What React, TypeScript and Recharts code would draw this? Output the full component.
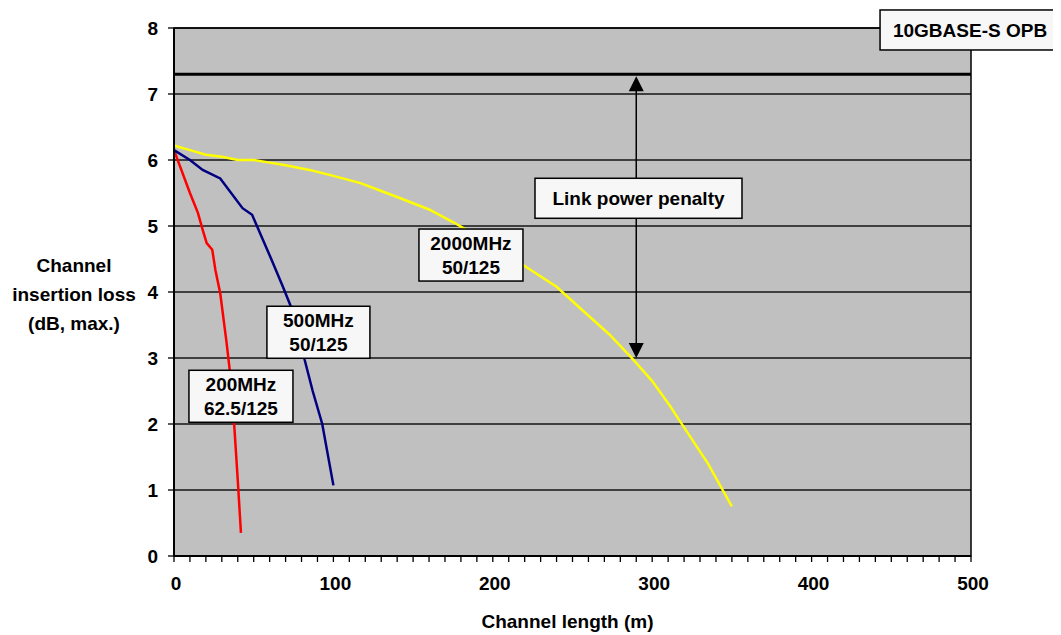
import React from "react"
import {
  LineChart,
  Line,
  XAxis,
  YAxis,
  CartesianGrid,
  ReferenceLine,
  ReferenceArea,
  ReferenceDot,
} from "recharts"

// Channel length (m) vs. max channel insertion loss (dB)
const oneGhzLength = [0, 10, 15, 18, 20.5, 24, 26, 29, 33, 36, 38, 40, 42]
const oneGhzLoss = [6.15, 5.5, 5.2, 4.94, 4.74, 4.64, 4.33, 3.98, 3.23, 2.6, 1.9, 1.15, 0.35]

const fiveHundredLength = [0, 10, 18, 29, 43, 49, 54, 61, 68, 73, 78, 82, 87, 93, 100]
const fiveHundredLoss = [6.15, 6.0, 5.85, 5.72, 5.27, 5.17, 4.89, 4.5, 4.1, 3.8, 3.4, 2.97, 2.5, 2.0, 1.07]

const twoGhzLength = [0, 10, 20, 30, 40, 50, 60, 70, 85, 100, 117, 130, 142, 160, 175, 190, 205, 219, 240, 255, 273, 288, 300, 311, 318, 335, 350]
const twoGhzLoss = [6.22, 6.15, 6.08, 6.05, 6.0, 6.0, 5.96, 5.92, 5.85, 5.76, 5.65, 5.53, 5.42, 5.25, 5.06, 4.85, 4.62, 4.41, 4.08, 3.75, 3.36, 2.98, 2.65, 2.28, 2.02, 1.4, 0.75]

const xMajorTicks = [0, 100, 200, 300, 400, 500]
const xMinorTicks = Array.from({ length: 51 }, (_, i) => i * 10)
const yTicks = [0, 1, 2, 3, 4, 5, 6, 7, 8]

const opbLevel = 7.3
const penaltyLength = 290
const penaltyFloor = 3

const toPoints = (xs: number[], ys: number[]) => xs.map((x, i) => ({ x, y: ys[i] }))

const FONT = "'Liberation Sans', Arial, sans-serif"

// tick props arrive with y = axis line + tickSize(6) + tickMargin(2)
function XTick(props: any) {
  const { x, y, payload } = props
  const axisY = y - 8
  const major = xMajorTicks.includes(payload.value)
  return (
    <g>
      <line x1={x} x2={x} y1={axisY} y2={axisY + 6} stroke="#000" strokeWidth={1.3} />
      {major && (
        <text x={x + 2} y={axisY + 27} dy="0.35em" textAnchor="middle" fontFamily={FONT} fontWeight="bold" fontSize={19} fill="#000">
          {payload.value}
        </text>
      )}
    </g>
  )
}

function boxLabel(lines: string[], w: number, h: number) {
  return (props: any) => {
    const { cx, cy } = props
    const gap = 24
    const top = cy - ((lines.length - 1) * gap) / 2
    return (
      <g>
        <rect x={cx - w / 2} y={cy - h / 2} width={w} height={h} fill="#f7f7f7" stroke="#000" strokeWidth={1.5} />
        {lines.map((t, i) => (
          <text
            key={i}
            x={cx}
            y={top + i * gap}
            dy="0.35em"
            textAnchor="middle"
            fontFamily={FONT}
            fontWeight="bold"
            fontSize={19}
            fill="#000"
          >
            {t}
          </text>
        ))}
      </g>
    )
  }
}

function PenaltyArrow(props: any) {
  const { x1, y1, y2 } = props
  const top = Math.min(y1, y2) + 2
  const bottom = Math.max(y1, y2)
  return (
    <g>
      <line x1={x1} x2={x1} y1={top + 10} y2={bottom - 10} stroke="#000" strokeWidth={1.5} />
      <polygon points={`${x1},${top} ${x1 - 7.5},${top + 15} ${x1 + 7.5},${top + 15}`} fill="#000" />
      <polygon points={`${x1},${bottom} ${x1 - 7.5},${bottom - 15} ${x1 + 7.5},${bottom - 15}`} fill="#000" />
    </g>
  )
}

function YLabel(props: any) {
  const { viewBox } = props
  const cx = viewBox.x + 66
  const cy = viewBox.y + viewBox.height / 2
  const lines = ["Channel", "insertion loss", "(dB, max.)"]
  return (
    <g>
      {lines.map((t, i) => (
        <text key={i} x={cx} y={cy - 20 + i * 29} textAnchor="middle" fontFamily={FONT} fontWeight="bold" fontSize={19} fill="#000">
          {t}
        </text>
      ))}
    </g>
  )
}

function XLabel(props: any) {
  const { viewBox } = props
  return (
    <text x={viewBox.x + viewBox.width / 2 - 5} y={viewBox.y + 72} textAnchor="middle" fontFamily={FONT} fontWeight="bold" fontSize={19} fill="#000">
      Channel length (m)
    </text>
  )
}

export default function App() {
  return (
    <LineChart width={1053} height={627} margin={{ top: 20, right: 90, left: 0, bottom: 0 }}>
      <CartesianGrid horizontal vertical={false} fill="#c0c0c0" stroke="#000" strokeWidth={1.5} strokeOpacity={0.9} />
      <XAxis
        type="number"
        dataKey="x"
        domain={[0, 500]}
        ticks={xMinorTicks}
        interval={0}
        height={79}
        axisLine={{ stroke: "#000", strokeWidth: 2 }}
        tickLine={false}
        tick={<XTick />}
        label={{ content: <XLabel /> }}
      />
      <YAxis
        type="number"
        domain={[0, 8]}
        ticks={yTicks}
        interval={0}
        width={166}
        axisLine={{ stroke: "#000", strokeWidth: 2 }}
        tickLine={{ stroke: "#000", strokeWidth: 1.3 }}
        tickSize={6}
        tickMargin={10}
        tick={{ fontFamily: FONT, fontWeight: "bold", fontSize: 19, fill: "#000" }}
        label={{ content: <YLabel /> }}
      />
      <ReferenceArea x1={0} x2={500} y1={0} y2={8} fill="none" fillOpacity={0} stroke="#000" strokeWidth={1.5} />
      <ReferenceLine y={opbLevel} stroke="#000" strokeWidth={3} />
      <Line data={toPoints(oneGhzLength, oneGhzLoss)} dataKey="y" stroke="#ff0000" strokeWidth={2.5} dot={false} isAnimationActive={false} />
      <Line data={toPoints(fiveHundredLength, fiveHundredLoss)} dataKey="y" stroke="#000080" strokeWidth={2.5} dot={false} isAnimationActive={false} />
      <Line data={toPoints(twoGhzLength, twoGhzLoss)} dataKey="y" stroke="#ffff00" strokeWidth={2.5} dot={false} isAnimationActive={false} />
      <ReferenceLine
        segment={[
          { x: penaltyLength, y: opbLevel },
          { x: penaltyLength, y: penaltyFloor },
        ]}
        shape={<PenaltyArrow />}
      />
      <ReferenceDot x={42} y={2.42} shape={boxLabel(["200MHz", "62.5/125"], 104, 52)} />
      <ReferenceDot x={90.6} y={3.39} shape={boxLabel(["500MHz", "50/125"], 103, 52)} />
      <ReferenceDot x={186.3} y={4.56} shape={boxLabel(["2000MHz", "50/125"], 104, 52)} />
      <ReferenceDot x={291.4} y={5.42} shape={boxLabel(["Link power penalty"], 207, 40)} />
      <ReferenceDot x={499.4} y={7.97} ifOverflow="visible" shape={boxLabel(["10GBASE-S OPB"], 180, 40)} />
    </LineChart>
  )
}
